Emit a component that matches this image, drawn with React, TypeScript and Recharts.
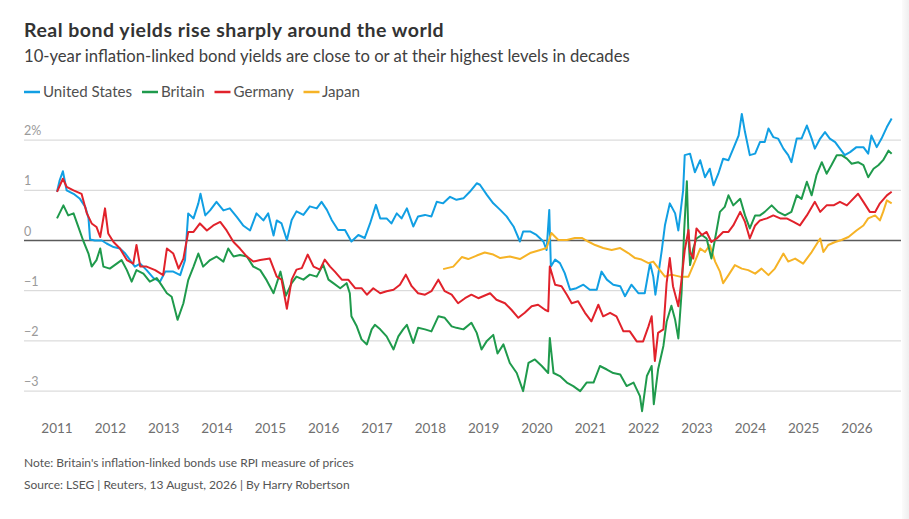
import React from "react";
import { LineChart, Line, XAxis, YAxis, ReferenceLine } from "recharts";

const yearTicks = [2011, 2012, 2013, 2014, 2015, 2016, 2017, 2018, 2019, 2020, 2021, 2022, 2023, 2024, 2025, 2026];
const valueTicks = [-3, -2, -1, 0, 1, 2];

const unitedStates: [number, number][] = [
  [2011.0, 0.97], [2011.05, 1.2], [2011.11, 1.38], [2011.18, 1.0], [2011.31, 0.93], [2011.43, 0.83], [2011.53, 0.67],
  [2011.59, 0.45], [2011.62, 0.02], [2011.71, 0.0], [2011.84, 0.0], [2011.93, -0.06], [2012.06, -0.13], [2012.18, -0.16],
  [2012.28, -0.26], [2012.37, -0.39], [2012.46, -0.52], [2012.56, -0.46], [2012.68, -0.59], [2012.81, -0.75], [2012.93, -0.82],
  [2013.03, -0.62], [2013.18, -0.62], [2013.31, -0.69], [2013.4, -0.39], [2013.46, 0.54], [2013.56, 0.44], [2013.65, 0.74],
  [2013.69, 0.93], [2013.78, 0.5], [2013.87, 0.6], [2013.99, 0.77], [2014.12, 0.6], [2014.24, 0.64], [2014.37, 0.47],
  [2014.49, 0.3], [2014.62, 0.2], [2014.74, 0.54], [2014.87, 0.4], [2014.96, 0.54], [2015.06, 0.1], [2015.12, 0.4],
  [2015.21, 0.34], [2015.31, 0.01], [2015.4, 0.41], [2015.49, 0.58], [2015.62, 0.51], [2015.74, 0.68], [2015.87, 0.64],
  [2015.96, 0.77], [2016.06, 0.61], [2016.15, 0.41], [2016.27, 0.21], [2016.4, 0.21], [2016.52, -0.02], [2016.65, 0.11],
  [2016.77, 0.05], [2016.87, 0.34], [2016.98, 0.71], [2017.06, 0.44], [2017.18, 0.44], [2017.27, 0.34], [2017.37, 0.54],
  [2017.46, 0.44], [2017.56, 0.64], [2017.68, 0.28], [2017.77, 0.48], [2017.9, 0.51], [2018.02, 0.48], [2018.12, 0.77],
  [2018.24, 0.74], [2018.37, 0.87], [2018.49, 0.81], [2018.62, 0.84], [2018.74, 0.97], [2018.87, 1.14], [2018.93, 1.11],
  [2019.06, 0.91], [2019.18, 0.74], [2019.31, 0.61], [2019.43, 0.48], [2019.56, 0.28], [2019.68, -0.02], [2019.74, 0.18],
  [2019.87, 0.18], [2019.99, 0.11], [2020.12, -0.02], [2020.18, -0.19], [2020.23, 0.61], [2020.26, -0.52], [2020.34, -0.38],
  [2020.43, -0.45], [2020.52, -0.65], [2020.62, -0.98], [2020.74, -0.95], [2020.87, -0.88], [2020.99, -0.98], [2021.12, -0.98],
  [2021.21, -0.62], [2021.31, -0.78], [2021.43, -0.88], [2021.56, -0.91], [2021.65, -1.11], [2021.77, -0.88], [2021.9, -1.05],
  [2022.02, -1.05], [2022.12, -0.45], [2022.18, -0.72], [2022.22, -1.08], [2022.34, -0.19], [2022.4, 0.31], [2022.49, 0.74],
  [2022.59, 0.54], [2022.65, 0.2], [2022.74, 1.0], [2022.77, 1.7], [2022.87, 1.73], [2022.96, 1.36], [2023.06, 1.6],
  [2023.15, 1.26], [2023.24, 1.43], [2023.31, 1.1], [2023.4, 1.33], [2023.49, 1.63], [2023.59, 1.6], [2023.68, 1.83],
  [2023.78, 2.09], [2023.84, 2.52], [2023.9, 2.16], [2023.99, 1.7], [2024.09, 1.73], [2024.18, 1.96], [2024.27, 1.96],
  [2024.34, 2.23], [2024.43, 2.06], [2024.52, 2.03], [2024.62, 1.83], [2024.71, 1.7], [2024.77, 1.56], [2024.87, 2.03],
  [2024.96, 2.03], [2025.06, 2.29], [2025.15, 2.03], [2025.21, 1.83], [2025.31, 2.03], [2025.4, 2.16], [2025.49, 2.03],
  [2025.59, 1.96], [2025.68, 1.83], [2025.77, 1.7], [2025.87, 1.76], [2025.99, 1.86], [2026.12, 1.86], [2026.21, 1.73],
  [2026.27, 2.09], [2026.37, 1.86], [2026.46, 2.03], [2026.56, 2.26], [2026.65, 2.43],
];

const britain: [number, number][] = [
  [2011.0, 0.44], [2011.12, 0.7], [2011.21, 0.5], [2011.31, 0.54], [2011.4, 0.27], [2011.49, 0.0], [2011.59, -0.26],
  [2011.65, -0.52], [2011.74, -0.39], [2011.81, -0.16], [2011.87, -0.52], [2011.99, -0.56], [2012.12, -0.46], [2012.21, -0.39],
  [2012.31, -0.59], [2012.4, -0.82], [2012.49, -0.59], [2012.62, -0.66], [2012.74, -0.82], [2012.87, -0.75], [2012.96, -0.89],
  [2013.06, -1.05], [2013.15, -1.12], [2013.26, -1.58], [2013.37, -1.25], [2013.46, -0.79], [2013.56, -0.52], [2013.65, -0.26],
  [2013.74, -0.52], [2013.87, -0.39], [2013.99, -0.32], [2014.12, -0.42], [2014.21, -0.16], [2014.31, -0.32], [2014.43, -0.29],
  [2014.56, -0.32], [2014.68, -0.52], [2014.81, -0.59], [2014.93, -0.79], [2015.06, -1.05], [2015.19, -0.62], [2015.29, -1.1],
  [2015.4, -0.85], [2015.49, -0.72], [2015.62, -0.78], [2015.74, -0.68], [2015.87, -0.72], [2015.99, -0.48], [2016.09, -0.78],
  [2016.18, -0.85], [2016.31, -0.95], [2016.43, -0.85], [2016.49, -1.05], [2016.52, -1.51], [2016.62, -1.71], [2016.71, -1.97],
  [2016.81, -2.07], [2016.9, -1.77], [2016.96, -1.68], [2017.06, -1.77], [2017.18, -1.91], [2017.31, -2.17], [2017.4, -1.91],
  [2017.49, -1.77], [2017.56, -1.68], [2017.68, -2.04], [2017.77, -1.74], [2017.9, -1.77], [2018.02, -1.81], [2018.15, -1.51],
  [2018.27, -1.54], [2018.4, -1.71], [2018.49, -1.74], [2018.62, -1.77], [2018.77, -1.64], [2018.87, -1.84], [2018.96, -2.17],
  [2019.06, -2.0], [2019.18, -1.88], [2019.26, -2.25], [2019.37, -2.07], [2019.49, -2.44], [2019.62, -2.64], [2019.74, -3.0],
  [2019.84, -2.44], [2019.96, -2.37], [2020.09, -2.5], [2020.21, -2.64], [2020.24, -1.94], [2020.31, -2.64], [2020.43, -2.7],
  [2020.56, -2.83], [2020.68, -2.9], [2020.81, -3.0], [2020.93, -2.83], [2021.06, -2.83], [2021.18, -2.5], [2021.31, -2.57],
  [2021.43, -2.64], [2021.56, -2.67], [2021.68, -2.9], [2021.81, -2.83], [2021.93, -3.1], [2021.97, -3.4], [2022.06, -2.7],
  [2022.15, -2.5], [2022.19, -3.26], [2022.27, -2.57], [2022.37, -2.1], [2022.43, -1.62], [2022.52, -1.3], [2022.59, -1.58],
  [2022.65, -1.95], [2022.71, -1.05], [2022.76, 0.21], [2022.81, 1.18], [2022.84, 0.08], [2022.87, -0.49], [2022.93, -0.16],
  [2022.99, 0.04], [2023.09, 0.11], [2023.18, 0.04], [2023.27, -0.36], [2023.34, 0.04], [2023.43, 0.57], [2023.52, 0.67],
  [2023.59, 0.9], [2023.68, 0.7], [2023.81, 0.83], [2023.9, 0.5], [2023.99, 0.24], [2024.09, 0.5], [2024.18, 0.5],
  [2024.27, 0.57], [2024.4, 0.7], [2024.52, 0.57], [2024.65, 0.5], [2024.77, 0.57], [2024.87, 0.9], [2024.96, 0.83],
  [2025.06, 1.17], [2025.15, 0.9], [2025.24, 1.3], [2025.34, 1.56], [2025.43, 1.33], [2025.52, 1.5], [2025.62, 1.7],
  [2025.71, 1.7], [2025.81, 1.63], [2025.9, 1.53], [2026.02, 1.56], [2026.12, 1.5], [2026.21, 1.26], [2026.31, 1.43],
  [2026.4, 1.5], [2026.49, 1.6], [2026.59, 1.79], [2026.65, 1.73],
];

const germany: [number, number][] = [
  [2011.0, 0.97], [2011.11, 1.23], [2011.18, 1.07], [2011.31, 1.0], [2011.46, 0.93], [2011.56, 0.54], [2011.65, 0.34],
  [2011.74, 0.27], [2011.81, 0.07], [2011.9, 0.64], [2011.96, 0.14], [2012.06, -0.03], [2012.18, -0.16], [2012.31, -0.39],
  [2012.43, -0.46], [2012.49, -0.09], [2012.56, -0.52], [2012.68, -0.52], [2012.84, -0.59], [2012.99, -0.69], [2013.06, -0.16],
  [2013.18, -0.26], [2013.28, -0.56], [2013.37, -0.36], [2013.46, 0.17], [2013.56, 0.17], [2013.68, 0.34], [2013.81, 0.2],
  [2013.93, 0.3], [2014.06, 0.37], [2014.18, 0.2], [2014.31, -0.03], [2014.43, -0.16], [2014.56, -0.32], [2014.68, -0.42],
  [2014.81, -0.39], [2014.99, -0.36], [2015.12, -0.72], [2015.21, -0.78], [2015.31, -1.36], [2015.4, -0.78], [2015.49, -0.58],
  [2015.59, -0.55], [2015.7, -0.28], [2015.81, -0.52], [2015.93, -0.58], [2016.02, -0.38], [2016.12, -0.52], [2016.21, -0.62],
  [2016.34, -0.78], [2016.46, -0.78], [2016.59, -0.95], [2016.71, -0.95], [2016.81, -1.08], [2016.93, -0.95], [2017.06, -1.05],
  [2017.18, -1.01], [2017.31, -0.98], [2017.43, -0.88], [2017.54, -0.68], [2017.65, -0.91], [2017.77, -1.05], [2017.9, -1.08],
  [2018.02, -1.01], [2018.15, -0.78], [2018.27, -1.01], [2018.4, -1.08], [2018.52, -1.25], [2018.65, -1.15], [2018.77, -1.08],
  [2018.9, -1.15], [2019.12, -1.05], [2019.24, -1.18], [2019.4, -1.25], [2019.52, -1.38], [2019.65, -1.54], [2019.77, -1.44],
  [2019.9, -1.31], [2020.02, -1.28], [2020.15, -1.38], [2020.21, -1.41], [2020.24, -0.52], [2020.34, -0.88], [2020.46, -0.91],
  [2020.56, -1.08], [2020.65, -1.25], [2020.77, -1.21], [2020.9, -1.44], [2021.02, -1.61], [2021.15, -1.28], [2021.24, -1.51],
  [2021.37, -1.44], [2021.49, -1.51], [2021.62, -1.81], [2021.74, -1.81], [2021.87, -2.01], [2021.99, -2.01], [2022.09, -1.71],
  [2022.15, -1.51], [2022.21, -2.4], [2022.27, -1.84], [2022.37, -1.77], [2022.43, -0.85], [2022.49, -0.35], [2022.55, -0.91],
  [2022.65, -1.31], [2022.71, -0.78], [2022.77, -0.19], [2022.84, 0.21], [2022.87, -0.23], [2022.93, -0.36], [2022.99, 0.24],
  [2023.09, 0.11], [2023.18, 0.17], [2023.27, -0.03], [2023.37, 0.04], [2023.49, 0.17], [2023.59, 0.17], [2023.68, 0.3],
  [2023.81, 0.57], [2023.9, 0.37], [2023.99, 0.04], [2024.09, 0.3], [2024.18, 0.4], [2024.31, 0.44], [2024.43, 0.5],
  [2024.56, 0.44], [2024.68, 0.44], [2024.81, 0.37], [2024.93, 0.3], [2025.06, 0.5], [2025.21, 0.77], [2025.31, 0.57],
  [2025.43, 0.7], [2025.56, 0.7], [2025.68, 0.77], [2025.81, 0.7], [2025.9, 0.8], [2026.02, 0.93], [2026.12, 0.77],
  [2026.24, 0.57], [2026.34, 0.57], [2026.43, 0.74], [2026.56, 0.9], [2026.65, 0.97],
];

const japan: [number, number][] = [
  [2018.24, -0.57], [2018.43, -0.52], [2018.59, -0.33], [2018.71, -0.37], [2018.87, -0.3], [2019.02, -0.24], [2019.18, -0.28],
  [2019.31, -0.35], [2019.49, -0.32], [2019.68, -0.37], [2019.87, -0.25], [2020.06, -0.19], [2020.18, -0.15], [2020.27, 0.15],
  [2020.4, 0.01], [2020.56, 0.01], [2020.71, 0.05], [2020.84, 0.05], [2020.96, -0.02], [2021.09, -0.09], [2021.24, -0.15],
  [2021.4, -0.19], [2021.56, -0.15], [2021.71, -0.25], [2021.84, -0.35], [2021.96, -0.38], [2022.09, -0.45], [2022.18, -0.42],
  [2022.31, -0.6], [2022.4, -0.72], [2022.52, -0.68], [2022.68, -0.72], [2022.84, -0.72], [2022.96, -0.42], [2023.06, -0.16],
  [2023.15, -0.23], [2023.24, -0.09], [2023.34, -0.42], [2023.43, -0.62], [2023.49, -0.85], [2023.59, -0.69], [2023.71, -0.49],
  [2023.84, -0.56], [2023.96, -0.59], [2024.09, -0.66], [2024.21, -0.56], [2024.34, -0.69], [2024.46, -0.56], [2024.62, -0.26],
  [2024.71, -0.42], [2024.84, -0.36], [2024.99, -0.46], [2025.15, -0.23], [2025.31, 0.04], [2025.37, -0.23], [2025.46, -0.09],
  [2025.59, -0.03], [2025.71, 0.01], [2025.84, 0.07], [2025.99, 0.2], [2026.12, 0.3], [2026.21, 0.44], [2026.34, 0.5],
  [2026.43, 0.4], [2026.49, 0.57], [2026.56, 0.8], [2026.65, 0.74],
];

const seriesNames = ["United States", "Britain", "Germany", "Japan"];
const seriesColors = ["#119FE3", "#1F9A4C", "#E1222B", "#F6B326"];

const toPoints = (arr: [number, number][]) => arr.map(([t, v]) => ({ t, v }));

const FONT = "Lato, 'Noto Sans', sans-serif";

const W = 909;
const H = 519;

const formatValue = (v: number) => {
  const s = v < 0 ? "\u2212" + Math.abs(v) : String(v);
  return v === 2 ? s + "%" : s;
};

const renderYTick = (props: any) => {
  const { y, payload } = props;
  return (
    <text x={24} y={y - 5} textAnchor="start" fontSize={12.5} fill="#9a9a9a" fontFamily={FONT}>
      {formatValue(payload.value)}
    </text>
  );
};

const renderXTick = (props: any) => {
  const { x, y, payload } = props;
  return (
    <text x={x} y={y} dy={8.5} textAnchor="middle" fontSize={13.5} fill="#707070" fontFamily={FONT}>
      {payload.value}
    </text>
  );
};

const legendLayout = [
  { sx: 24, tx: 43 },
  { sx: 142, tx: 161 },
  { sx: 214.5, tx: 233.5 },
  { sx: 303.5, tx: 322 },
];

export default function App() {
  const data = [unitedStates, britain, germany, japan].map(toPoints);
  const drawOrder = [0, 3, 1, 2];
  return (
    <div style={{ position: "absolute", left: 0, top: 0, width: W, height: H, background: "#fff", overflow: "hidden" }}>
      <div style={{ position: "absolute", left: 0, top: 0 }}>
        <LineChart width={W} height={H} margin={{ top: 104.96, right: 8, bottom: 72.8, left: 0 }}>
          <XAxis
            dataKey="t"
            type="number"
            domain={[2010.381, 2026.825]}
            ticks={yearTicks}
            tick={renderXTick}
            axisLine={false}
            tickLine={false}
            height={30}
            allowDataOverflow
          />
          <YAxis
            type="number"
            domain={[-3.5, 2.7]}
            ticks={valueTicks}
            tick={renderYTick}
            axisLine={false}
            tickLine={false}
            width={24}
            allowDataOverflow
          />
          {valueTicks
            .filter((v) => v !== 0)
            .map((v) => (
              <ReferenceLine key={v} y={v} stroke="#d3d3d3" strokeWidth={1} />
            ))}
          <ReferenceLine y={0} stroke="#5a5a5a" strokeWidth={1.5} />
          {drawOrder.map((i) => (
            <Line
              key={seriesNames[i]}
              data={data[i]}
              dataKey="v"
              name={seriesNames[i]}
              type="linear"
              stroke={seriesColors[i]}
              strokeWidth={2}
              dot={false}
              activeDot={false}
              strokeLinejoin="round"
              isAnimationActive={false}
            />
          ))}
        </LineChart>
      </div>
      <svg width={W} height={H} style={{ position: "absolute", left: 0, top: 0, pointerEvents: "none" }}>
        <text x={24} y={36.5} fontFamily={FONT} fontWeight={700} fontSize={19.5} letterSpacing={0.5} fill="#333">
          Real bond yields rise sharply around the world
        </text>
        <text x={24} y={62.3} fontFamily={FONT} fontSize={16.65} fill="#404040">
          10-year inflation-linked bond yields are close to or at their highest levels in decades
        </text>
        {seriesNames.map((name, i) => (
          <g key={name}>
            <line x1={legendLayout[i].sx} x2={legendLayout[i].sx + 16} y1={92} y2={92} stroke={seriesColors[i]} strokeWidth={2.5} />
            <text x={legendLayout[i].tx} y={97.3} fontFamily={FONT} fontSize={15.1} fill="#505050">
              {name}
            </text>
          </g>
        ))}
        <text x={24} y={467.3} fontFamily={FONT} fontSize={12} fill="#555">
          Note: Britain's inflation-linked bonds use RPI measure of prices
        </text>
        <text x={24} y={489.3} fontFamily={FONT} fontSize={12} fill="#555">
          Source: LSEG | Reuters, 13 August, 2026 | By Harry Robertson
        </text>
      </svg>
      <div
        style={{
          position: "absolute",
          left: 902,
          top: 0,
          width: 7,
          height: H,
          background: "linear-gradient(to right, #fbfbfb, #efefef)",
        }}
      />
    </div>
  );
}
